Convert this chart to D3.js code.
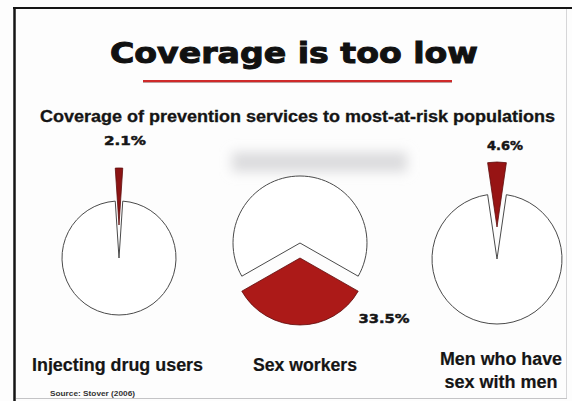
<!DOCTYPE html>
<html>
<head>
<meta charset="utf-8">
<script src="https://cdn.jsdelivr.net/npm/d3@7"></script>
<style>
  body { margin: 0; background: #fff; }
  svg { display: block; }
</style>
</head>
<body>
<svg id="chart" width="572" height="401"></svg>
<script>
// Coverage of prevention services, by most-at-risk population (%)
const groups = ["Injecting drug users", "Sex workers", "Men who have sex with men"];
const groupLines = [["Injecting drug users"], ["Sex workers"], ["Men who have", "sex with men"]];
const coverage = [2.1, 33.5, 4.6];
const titleText = "Coverage is too low";
const subtitleText = "Coverage of prevention services to most-at-risk populations";
const sourceText = "Source: Stover (2006)";

const fmt = v => d3.format(".1f")(v) + "%";

const svg = d3.select("#chart");

// Fit a text element to a measured width
function fit(sel, w) {
  sel.attr("textLength", w).attr("lengthAdjust", "spacingAndGlyphs");
  return sel;
}

// Soft haze behind the middle pie
const defs = svg.append("defs");
defs.append("filter").attr("id", "haze")
  .attr("x", "-40%").attr("y", "-150%").attr("width", "180%").attr("height", "400%")
  .append("feGaussianBlur").attr("stdDeviation", 6);

svg.append("rect").attr("width", 572).attr("height", 401).attr("fill", "#fdfdfd");

svg.append("rect")
  .attr("x", 232).attr("y", 152).attr("width", 175).attr("height", 20)
  .attr("fill", "#dcdcde").attr("filter", "url(#haze)");

// Frame
svg.append("line").attr("x1", 13).attr("x2", 572).attr("y1", 8).attr("y2", 8)
  .attr("stroke", "#151515").attr("stroke-width", 2);
svg.append("line").attr("x1", 14.5).attr("x2", 14.5).attr("y1", 7).attr("y2", 401)
  .attr("stroke", "#151515").attr("stroke-width", 2.5);
svg.append("line").attr("x1", 566.5).attr("x2", 566.5).attr("y1", 9).attr("y2", 398)
  .attr("stroke", "#d6d6d8").attr("stroke-width", 1);
svg.append("line").attr("x1", 16).attr("x2", 567).attr("y1", 398.5).attr("y2", 398.5)
  .attr("stroke", "#c4c4c6").attr("stroke-width", 1);

// Title
fit(svg.append("text")
  .attr("x", 294).attr("y", 63)
  .attr("text-anchor", "middle")
  .attr("font-family", "'DejaVu Sans', sans-serif")
  .attr("font-weight", "bold").attr("font-size", 29)
  .attr("fill", "#111").attr("stroke", "#111").attr("stroke-width", 1)
  .text(titleText), 368);

// Red rule under the title
svg.append("line").attr("x1", 143).attr("x2", 452).attr("y1", 81).attr("y2", 81)
  .attr("stroke", "#cf2a2a").attr("stroke-width", 2.2);
svg.append("line").attr("x1", 143).attr("x2", 452).attr("y1", 82.6).attr("y2", 82.6)
  .attr("stroke", "#6a2222").attr("stroke-width", 0.8).attr("opacity", 0.6);

// Subtitle
fit(svg.append("text")
  .attr("x", 297.5).attr("y", 122)
  .attr("text-anchor", "middle")
  .attr("font-family", "'Liberation Sans', Arial, sans-serif")
  .attr("font-weight", "bold").attr("font-size", 16)
  .attr("fill", "#151515").attr("stroke", "#151515").attr("stroke-width", 0.3)
  .text(subtitleText), 515);

// Pie placement: centre, radius, direction of the covered slice, explode offset
const layout = [
  { cx: 119, cy: 258, r: 57, dir: 0, explode: 33, fill: "#8c1414",
    lab: { x: 125, y: 145, w: 42 }, names: { x: 117.5, ys: [371], ws: [171] } },
  { cx: 300, cy: 243, r: 67, dir: Math.PI, explode: 15, fill: "#ac1a18",
    lab: { x: 384, y: 323, w: 51 }, names: { x: 305, ys: [371], ws: [104] } },
  { cx: 497, cy: 259, r: 65, dir: 0, explode: 32, fill: "#971414",
    lab: { x: 505, y: 150, w: 36 }, names: { x: 501, ys: [365, 388], ws: [122, 113] } }
];

const arc = d3.arc().innerRadius(0);

coverage.forEach((v, i) => {
  const L = layout[i];
  const share = v / 100;
  const pie = d3.pie().sort(null).value(d => d)
    .startAngle(L.dir - share * Math.PI)
    .endAngle(L.dir - share * Math.PI + 2 * Math.PI);
  const slices = pie([v, 100 - v]);

  const g = svg.append("g").attr("transform", `translate(${L.cx},${L.cy})`);
  arc.outerRadius(L.r);

  // Remaining (uncovered) share
  g.append("path").attr("d", arc(slices[1]))
    .attr("fill", "#ffffff").attr("stroke", "#4a4a4a").attr("stroke-width", 1);

  // Covered share, pulled out from the centre
  const mid = (slices[0].startAngle + slices[0].endAngle) / 2;
  const dx = Math.sin(mid) * L.explode, dy = -Math.cos(mid) * L.explode;
  g.append("path").attr("d", arc(slices[0]))
    .attr("transform", `translate(${dx},${dy})`)
    .attr("fill", L.fill).attr("stroke", "#5e0c0c").attr("stroke-width", 0.8);

  // Value label
  fit(svg.append("text")
    .attr("x", L.lab.x).attr("y", L.lab.y)
    .attr("text-anchor", "middle")
    .attr("font-family", "'DejaVu Sans', sans-serif")
    .attr("font-weight", "bold").attr("font-size", 13)
    .attr("fill", "#151515").attr("stroke", "#151515").attr("stroke-width", 0.5)
    .text(fmt(v)), L.lab.w);

  // Group name
  groupLines[i].forEach((line, j) => {
    fit(svg.append("text")
      .attr("x", L.names.x).attr("y", L.names.ys[j])
      .attr("text-anchor", "middle")
      .attr("font-family", "'Liberation Sans', Arial, sans-serif")
      .attr("font-weight", "bold").attr("font-size", 18)
      .attr("fill", "#151515").attr("stroke", "#151515").attr("stroke-width", 0.2)
      .text(line), L.names.ws[j]);
  });
});

// Source note
fit(svg.append("text")
  .attr("x", 50).attr("y", 396)
  .attr("font-family", "'Liberation Sans', Arial, sans-serif")
  .attr("font-weight", "bold").attr("font-size", 7)
  .attr("fill", "#333")
  .text(sourceText), 85);
</script>
</body>
</html>
